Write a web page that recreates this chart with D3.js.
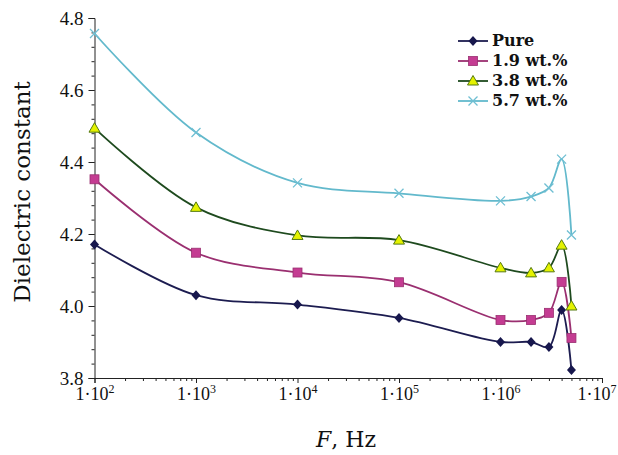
<!DOCTYPE html>
<html>
<head>
<meta charset="utf-8">
<script src="https://cdn.jsdelivr.net/npm/d3@7"></script>
<style>
  body { margin: 0; background: #fff; }
  svg { display: block; }
</style>
</head>
<body>
<svg id="chart"></svg>
<script>
// Data
const freqs = [1e2, 1e3, 1e4, 1e5, 1e6, 2e6, 3e6, 4e6, 5e6];
const seriesNames = ['Pure', '1.9 wt.%', '3.8 wt.%', '5.7 wt.%'];
const purePoints = [4.171, 4.030, 4.004, 3.967, 3.900, 3.900, 3.886, 3.989, 3.822];
const wt19Points = [4.352, 4.148, 4.093, 4.066, 3.961, 3.961, 3.981, 4.067, 3.911];
const wt38Points = [4.494, 4.274, 4.196, 4.183, 4.106, 4.092, 4.106, 4.169, 4.000];
const wt57Points = [4.757, 4.482, 4.342, 4.313, 4.292, 4.304, 4.328, 4.408, 4.197];
const yTicks = [3.8, 4.0, 4.2, 4.4, 4.6, 4.8];
const xTickExps = [2, 3, 4, 5, 6, 7];

const width = 618;
const height = 455;

const svg = d3.select('#chart')
    .attr('width', width)
    .attr('height', height)
    .style('font-family', '"Liberation Serif", "DejaVu Serif", serif');

// Scales
const x = d3.scaleLog().domain([1e2, 1e7]).range([94.5, 602]);
const y = d3.scaleLinear().domain([3.8, 4.8]).range([378, 18]);

const styles = [
    { line: '#1c1c50', fill: '#17174d', stroke: '#17174d', marker: 'diamond' },
    { line: '#9a2f70', fill: '#c43c92', stroke: '#9a2f70', marker: 'square' },
    { line: '#1e4a1e', fill: '#e4f200', stroke: '#557a10', marker: 'triangle' },
    { line: '#62b9cc', fill: 'none', stroke: '#6fbfd3', marker: 'cross' }
];
const allSeries = [purePoints, wt19Points, wt38Points, wt57Points];

// Y axis: major + minor ticks on the left
const yMinor = d3.range(3.8, 4.8001, 0.04);
svg.append('g')
    .attr('transform', 'translate(94.5,0)')
    .call(d3.axisLeft(y).tickValues(yMinor).tickSize(3).tickFormat(''))
    .call(g => g.select('.domain').remove());
svg.append('g')
    .attr('transform', 'translate(94.5,0)')
    .call(d3.axisLeft(y).tickValues(yTicks).tickSize(6).tickPadding(5).tickFormat(d3.format('.1f')))
    .call(g => g.selectAll('text').attr('font-size', 19).attr('font-family', '"Liberation Serif", serif').attr('fill', '#111'));

// X axis: decades + minor 2..9
const xMinor = [];
for (let e = 2; e < 7; e++) {
    for (let k = 2; k <= 9; k++) xMinor.push(k * Math.pow(10, e));
}
svg.append('g')
    .attr('transform', 'translate(0,378)')
    .call(d3.axisBottom(x).tickValues(xMinor).tickSize(3).tickFormat(''))
    .call(g => g.select('.domain').remove());
const xAxis = svg.append('g')
    .attr('transform', 'translate(0,378)')
    .call(d3.axisBottom(x).tickValues(xTickExps.map(e => Math.pow(10, e))).tickSize(5).tickFormat(''));

// decade labels with superscripts (last one pulled in so it stays on the page)
xAxis.selectAll('.tick').each(function(d) {
    const last = d >= 1e7;
    const t = d3.select(this).append('text')
        .attr('x', last ? 14 : 0)
        .attr('y', 22)
        .attr('fill', '#111')
        .attr('text-anchor', last ? 'end' : 'middle')
        .attr('font-size', 18)
        .attr('font-family', '"Liberation Serif", serif');
    t.append('tspan').text('1·10');
    t.append('tspan')
        .attr('font-size', 12)
        .attr('dy', -7)
        .text(Math.round(Math.log10(d)));
});
svg.selectAll('.domain').attr('stroke', '#222');
svg.selectAll('.tick line').attr('stroke', '#222');

// Lines
const line = d3.line()
    .x(d => x(d[0]))
    .y(d => y(d[1]))
    .curve(d3.curveCatmullRom.alpha(0.5));

function drawMarker(g, type, cx, cy, st) {
    if (type === 'diamond') {
        g.append('path')
            .attr('d', `M${cx},${cy - 5}L${cx + 4.5},${cy}L${cx},${cy + 5}L${cx - 4.5},${cy}Z`)
            .attr('fill', st.fill);
    } else if (type === 'square') {
        g.append('rect')
            .attr('x', cx - 4.5).attr('y', cy - 4.5)
            .attr('width', 9).attr('height', 9)
            .attr('fill', st.fill).attr('stroke', st.stroke).attr('stroke-width', 0.8);
    } else if (type === 'triangle') {
        g.append('path')
            .attr('d', `M${cx},${cy - 5.5}L${cx + 5.5},${cy + 4}L${cx - 5.5},${cy + 4}Z`)
            .attr('fill', st.fill).attr('stroke', st.stroke).attr('stroke-width', 1);
    } else {
        g.append('path')
            .attr('d', `M${cx - 4.5},${cy - 4.5}L${cx + 4.5},${cy + 4.5}M${cx - 4.5},${cy + 4.5}L${cx + 4.5},${cy - 4.5}`)
            .attr('fill', 'none').attr('stroke', st.stroke).attr('stroke-width', 1.3);
    }
}

allSeries.forEach((vals, i) => {
    const pts = freqs.map((f, j) => [f, vals[j]]);
    const st = styles[i];
    svg.append('path')
        .datum(pts)
        .attr('d', line)
        .attr('fill', 'none')
        .attr('stroke', st.line)
        .attr('stroke-width', 1.8);
    const mg = svg.append('g');
    pts.forEach(p => drawMarker(mg, st.marker, x(p[0]), y(p[1]), st));
});

// Legend
const legend = svg.append('g').attr('transform', 'translate(458,41)');
seriesNames.forEach((name, i) => {
    const st = styles[i];
    const row = legend.append('g').attr('transform', `translate(0,${i * 20})`);
    row.append('line')
        .attr('x1', 0).attr('x2', 30)
        .attr('stroke', st.line).attr('stroke-width', 1.8);
    drawMarker(row, st.marker, 15, 0, st);
    row.append('text')
        .attr('x', 34)
        .attr('y', 5)
        .attr('font-size', 16)
        .attr('font-weight', 'bold')
        .attr('font-family', '"DejaVu Serif", serif')
        .attr('fill', '#111')
        .text(name);
});

// Axis titles
svg.append('text')
    .attr('transform', 'translate(30,192) rotate(-90)')
    .attr('text-anchor', 'middle')
    .attr('font-size', 23)
    .attr('font-family', '"DejaVu Serif", serif')
    .attr('fill', '#111')
    .text('Dielectric constant');

const xt = svg.append('text')
    .attr('x', 346)
    .attr('y', 447)
    .attr('text-anchor', 'middle')
    .attr('font-size', 22)
    .attr('font-family', '"DejaVu Serif", serif')
    .attr('fill', '#111');
xt.append('tspan').attr('font-style', 'italic').text('F');
xt.append('tspan').text(', Hz');
</script>
</body>
</html>
